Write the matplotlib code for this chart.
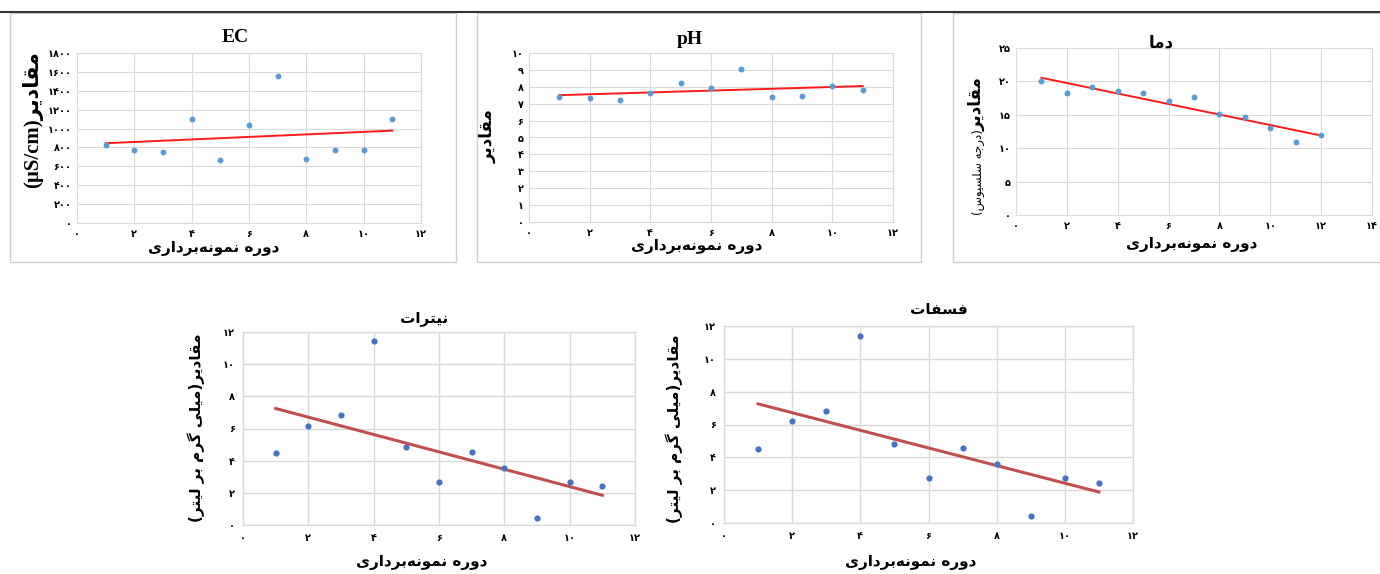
#!/usr/bin/env python3
"""
پنج نمودار پراکنش پارامترهای کیفی آب با خط روند خطی
"""

import numpy as np
import matplotlib
matplotlib.use("Agg")
import matplotlib.pyplot as plt
from matplotlib.ticker import MultipleLocator, FuncFormatter
from matplotlib.patches import Rectangle
from matplotlib.lines import Line2D

# داده‌ها (خوانده شده از تصویر)
ec_x = [1, 2, 3, 4, 5, 6, 7, 8, 9, 10, 11]
ec_y = [822, 773, 755, 1098, 664, 1041, 1553, 681, 770, 770, 1098]

ph_x = [1, 2, 3, 4, 5, 6, 7, 8, 9, 10, 11]
ph_y = [7.39, 7.35, 7.23, 7.64, 8.24, 7.90, 9.07, 7.39, 7.43, 8.06, 7.82]

temp_x = [1, 2, 3, 4, 5, 6, 7, 8, 9, 10, 11, 12]
temp_y = [20.0, 18.2, 19.2, 18.6, 18.2, 17.1, 17.6, 15.1, 14.6, 13.0, 11.0, 12.0]

nitrate_x = [1, 2, 3, 4, 5, 6, 7, 8, 9, 10, 11]
nitrate_y = [4.45, 6.17, 6.83, 11.44, 4.82, 2.69, 4.53, 3.56, 0.41, 2.69, 2.42]

phosphate_x = [1, 2, 3, 4, 5, 6, 7, 8, 9, 10, 11]
phosphate_y = [4.49, 6.19, 6.84, 11.41, 4.83, 2.74, 4.55, 3.59, 0.45, 2.74, 2.46]

# متن‌ها
XLABEL = "دوره نمونه\u200cبرداری"
YLABEL_PLAIN = "مقادیر"
YLABEL_TEMP_UNIT = "(درجه سلسیوس)"
YLABEL_MG = "مقادیر(میلی گرم بر لیتر)"
TITLE_TEMP = "دما"
TITLE_NITRATE = "نیترات"
TITLE_PHOSPHATE = "فسفات"

W, H = 1380, 574

# شکل‌های حروف: (تنها، پایانی، آغازی، میانی)
FORMS = {
    'ا': ('\uFE8D', '\uFE8E', None, None),
    'ب': ('\uFE8F', '\uFE90', '\uFE91', '\uFE92'),
    'ت': ('\uFE95', '\uFE96', '\uFE97', '\uFE98'),
    'ج': ('\uFE9D', '\uFE9E', '\uFE9F', '\uFEA0'),
    'د': ('\uFEA9', '\uFEAA', None, None),
    'ر': ('\uFEAD', '\uFEAE', None, None),
    'س': ('\uFEB1', '\uFEB2', '\uFEB3', '\uFEB4'),
    'ف': ('\uFED1', '\uFED2', '\uFED3', '\uFED4'),
    'ق': ('\uFED5', '\uFED6', '\uFED7', '\uFED8'),
    'ل': ('\uFEDD', '\uFEDE', '\uFEDF', '\uFEE0'),
    'م': ('\uFEE1', '\uFEE2', '\uFEE3', '\uFEE4'),
    'ن': ('\uFEE5', '\uFEE6', '\uFEE7', '\uFEE8'),
    'ه': ('\uFEE9', '\uFEEA', '\uFEEB', '\uFEEC'),
    'و': ('\uFEED', '\uFEEE', None, None),
    'ی': ('\uFBFC', '\uFBFD', '\uFBFE', '\uFBFF'),
    'گ': ('\uFB92', '\uFB93', '\uFB94', '\uFB95'),
}
MIRROR = {'(': ')', ')': '('}


def rtl(text):
    """شکل‌دهی ساده حروف فارسی و برگرداندن به ترتیب دیداری"""
    out = []
    n = len(text)
    for i, ch in enumerate(text):
        if ch == '\u200c':
            continue
        if ch not in FORMS:
            out.append(ch)
            continue
        prev = text[i - 1] if i > 0 else ''
        nxt = text[i + 1] if i < n - 1 else ''
        joins_prev = prev in FORMS and FORMS[prev][2] is not None
        joins_next = FORMS[ch][2] is not None and nxt in FORMS
        iso, fin, ini, med = FORMS[ch]
        if joins_prev and joins_next:
            out.append(med)
        elif joins_prev:
            out.append(fin)
        elif joins_next:
            out.append(ini)
        else:
            out.append(iso)
    return ''.join(MIRROR.get(c, c) for c in reversed(out))


def fa_digits(v, pos=None):
    """عدد به رقم فارسی"""
    s = str(int(round(v)))
    return ''.join(chr(0x06F0 + int(c)) if c.isdigit() else c for c in s)


def px(x, y):
    return x / W, 1 - y / H


def draw_panel(fig, rect, xs, ys, xmax, ymax, ystep, style):
    """یک نمودار پراکنش با خط روند"""
    l, t, r, b = rect
    ax = fig.add_axes([l / W, 1 - b / H, (r - l) / W, (b - t) / H])
    ax.set_xlim(0, xmax)
    ax.set_ylim(0, ymax)
    ax.xaxis.set_major_locator(MultipleLocator(2))
    ax.yaxis.set_major_locator(MultipleLocator(ystep))
    ax.xaxis.set_major_formatter(FuncFormatter(fa_digits))
    ax.yaxis.set_major_formatter(FuncFormatter(fa_digits))
    ax.grid(True, color=style['grid'], lw=style['glw'])
    ax.set_axisbelow(True)
    for sp in ax.spines.values():
        sp.set_color(style['grid'])
        sp.set_linewidth(style['glw'])
    ax.tick_params(length=0, labelsize=7, pad=style['pad'])
    for lab in ax.get_xticklabels() + ax.get_yticklabels():
        lab.set_fontweight('bold')

    coef = np.polyfit(xs, ys, 1)
    tx = np.array([xs[0], xs[-1]])
    ax.plot(tx, np.polyval(coef, tx), color=style['line'], lw=style['lw'], zorder=2)
    ax.scatter(xs, ys, s=style['s'], color=style['dot'], zorder=3, linewidths=0)
    return ax


def main():
    plt.rcParams['font.family'] = ['DejaVu Sans']
    fig = plt.figure(figsize=(W / 100, H / 100), dpi=100)
    fig.patch.set_facecolor('white')

    # خط بالا و قاب‌های ردیف بالا
    fig.add_artist(Line2D([0, 1], [1 - 12 / H, 1 - 12 / H], color='#333333',
                          lw=1.5, transform=fig.transFigure))
    for l, r in [(10, 456), (477, 921), (953, 1392)]:
        x0, y0 = px(l, 262)
        fig.add_artist(Rectangle((x0, y0), (r - l) / W, (262 - 13) / H,
                                 transform=fig.transFigure, fill=False,
                                 ec='#D0D0D0', lw=1))

    top = dict(grid='#D9D9D9', glw=0.8, dot='#5B9BD5', line='#FF1A1A', lw=1.4, s=18, pad=4)
    bot = dict(grid='#D9D9D9', glw=1.0, dot='#4472C4', line='#C0504D', lw=2.2, s=20, pad=6)

    serif = ['Liberation Serif', 'DejaVu Sans']

    # EC
    draw_panel(fig, (77, 53, 421, 223), ec_x, ec_y, 12, 1800, 200, top)
    fig.text(*px(235, 38), "EC", family=serif, weight='bold', size=14, ha='center', va='center')
    fig.text(*px(214, 248), rtl(XLABEL), weight='bold', size=11, ha='center', va='center')
    fig.text(*px(33, 120), "(µS/cm)" + rtl(YLABEL_PLAIN), family=serif, weight='bold',
             size=15, rotation=90, ha='center', va='center')

    # pH
    draw_panel(fig, (529, 53, 893, 222), ph_x, ph_y, 12, 10, 1, top)
    fig.text(*px(690, 39), "pH", family=serif, weight='bold', size=14, ha='center', va='center')
    fig.text(*px(697, 247), rtl(XLABEL), weight='bold', size=11, ha='center', va='center')
    fig.text(*px(488, 136), rtl(YLABEL_PLAIN), weight='bold', size=12,
             rotation=90, ha='center', va='center')

    # دما
    draw_panel(fig, (1016, 48, 1372, 215), temp_x, temp_y, 14, 25, 5, top)
    fig.text(*px(1161, 42), rtl(TITLE_TEMP), weight='bold', size=12, ha='center', va='center')
    fig.text(*px(1192, 245), rtl(XLABEL), weight='bold', size=11, ha='center', va='center')
    fig.text(*px(977, 104), rtl(YLABEL_PLAIN), weight='bold', size=12,
             rotation=90, ha='center', va='center')
    fig.text(*px(978, 172), rtl(YLABEL_TEMP_UNIT), size=8.5,
             rotation=90, ha='center', va='center')

    # نیترات
    draw_panel(fig, (243, 332, 635, 525), nitrate_x, nitrate_y, 12, 12, 2, bot)
    fig.text(*px(424, 318), rtl(TITLE_NITRATE), weight='bold', size=11, ha='center', va='center')
    fig.text(*px(422, 563), rtl(XLABEL), weight='bold', size=11, ha='center', va='center')
    fig.text(*px(196, 428), rtl(YLABEL_MG), weight='bold', size=11,
             rotation=90, ha='center', va='center')

    # فسفات
    draw_panel(fig, (724, 326, 1133, 523), phosphate_x, phosphate_y, 12, 12, 2, bot)
    fig.text(*px(939, 310), rtl(TITLE_PHOSPHATE), weight='bold', size=11, ha='center', va='center')
    fig.text(*px(911, 562), rtl(XLABEL), weight='bold', size=11, ha='center', va='center')
    fig.text(*px(674, 429), rtl(YLABEL_MG), weight='bold', size=11,
             rotation=90, ha='center', va='center')

    fig.savefig("out.png", dpi=100)
    return 0


if __name__ == "__main__":
    main()
